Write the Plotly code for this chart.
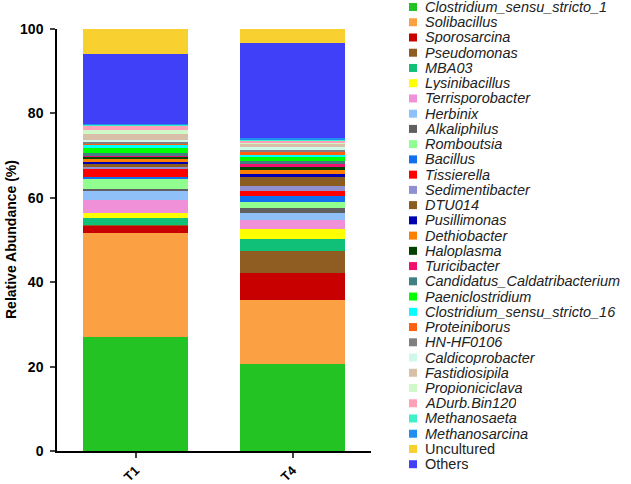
import plotly.graph_objects as go

samples = ["T1", "T4"]

taxa = ["Clostridium_sensu_stricto_1", "Solibacillus", "Sporosarcina", "Pseudomonas", "MBA03",
        "Lysinibacillus", "Terrisporobacter", "Herbinix", "Alkaliphilus", "Romboutsia",
        "Bacillus", "Tissierella", "Sedimentibacter", "DTU014", "Pusillimonas",
        "Dethiobacter", "Haloplasma", "Turicibacter", "Candidatus_Caldatribacterium",
        "Paeniclostridium", "Clostridium_sensu_stricto_16", "Proteiniborus", "HN-HF0106",
        "Caldicoprobacter", "Fastidiosipila", "Propioniciclava", "ADurb.Bin120",
        "Methanosaeta", "Methanosarcina", "Uncultured", "Others"]

italic = [True] * 29 + [False, False]

t1_values = [27.0, 24.6, 1.9, 0.1, 1.7, 1.2, 2.9, 2.1, 0.6, 2.5,
             0.4, 1.8, 0.6, 0.8, 0.2, 0.7, 0.5, 0.5, 0.4, 1.4,
             0.5, 0.5, 0.4, 0.5, 1.4, 0.8, 1.1, 0.3, 0.2, 6.0, 16.4]

t4_values = [20.6, 15.2, 6.3, 5.3, 2.8, 2.5, 2.0, 1.6, 1.3, 1.4,
             1.35, 1.35, 1.2, 2.1, 0.6, 0.9, 0.8, 0.8, 0.6, 1.0,
             0.4, 0.8, 0.5, 0.6, 0.8, 0.4, 0.3, 0.4, 0.3, 3.2, 22.6]

colors = ["#22c322", "#fca044", "#c80000", "#8f5d22", "#10c078",
          "#ffff00", "#f090d8", "#90c0f8", "#606060", "#90ff90",
          "#1070f0", "#ff0000", "#9090d0", "#8a5c20", "#0000b0",
          "#ff8000", "#004000", "#f01070", "#408080", "#00ff00",
          "#00ffff", "#ff6010", "#808080", "#d0f8e8", "#d8c0a8",
          "#d0f8c8", "#ffa0b8", "#40f0c8", "#2090f0", "#f8d030", "#4040f8"]

y_ticks = [0, 20, 40, 60, 80, 100]

# stacking order in the bars: taxa, then Others, then Uncultured on top
stack_order = list(range(29)) + [30, 29]

W, H = 631, 484
L, R, T, B = 57, 260, 29, 33
PW, PH = W - L - R, H - T - B


def px_x(px):
    return (px - L) / PW


def px_y(py):
    return (H - B - py) / PH


fig = go.Figure()
for i in stack_order:
    fig.add_trace(go.Bar(
        x=samples, y=[t1_values[i], t4_values[i]], name=taxa[i],
        marker=dict(color=colors[i], line=dict(width=0)),
        width=0.67, showlegend=False,
    ))

# hand-placed legend (squares + italic labels)
shapes = []
annotations = []
y0, step = 7.0, 15.24
for k, name in enumerate(taxa):
    cy = y0 + step * k
    shapes.append(dict(type="rect", xref="paper", yref="paper",
                       x0=px_x(409), x1=px_x(417), y0=px_y(cy + 4), y1=px_y(cy - 4),
                       fillcolor=colors[k], line=dict(width=0)))
    label = f"<i>{name}</i>" if italic[k] else name
    annotations.append(dict(text=label, xref="paper", yref="paper", x=px_x(424), y=px_y(cy),
                            xanchor="left", yanchor="middle", showarrow=False,
                            height=14, valign="middle", borderpad=0,
                            font=dict(size=14.5, family="Liberation Sans, Arial", color="#222")))

annotations.append(dict(text="<b>Relative Abundance (%)</b>", xref="paper", yref="paper",
                        x=px_x(11), y=0.5, textangle=-90, showarrow=False,
                        xanchor="center", yanchor="middle",
                        font=dict(size=14, family="Liberation Sans, Arial", color="black")))

fig.update_layout(
    barmode="stack",
    width=W, height=H,
    margin=dict(l=L, r=R, t=T, b=B, autoexpand=False),
    plot_bgcolor="white", paper_bgcolor="white",
    font=dict(family="Liberation Sans, Arial", color="black"),
    showlegend=False,
    shapes=shapes, annotations=annotations,
)

fig.update_yaxes(range=[0, 100], tickvals=y_ticks, ticks="outside",
                 ticklen=5, tickwidth=1.5, showline=True, linewidth=1.5, linecolor="black",
                 showgrid=False, zeroline=False, ticklabelstandoff=4,
                 tickfont=dict(size=14, family="Liberation Sans, Arial", weight="bold"),
                 automargin=False)
fig.update_xaxes(range=[-0.5, 1.5], ticks="outside", ticklen=5, tickwidth=1.5,
                 showline=True, linewidth=1.5, linecolor="black", showgrid=False,
                 tickangle=-45, tickfont=dict(size=13, family="Liberation Sans, Arial", weight="bold"),
                 automargin=False)

fig.write_html("out.html")
